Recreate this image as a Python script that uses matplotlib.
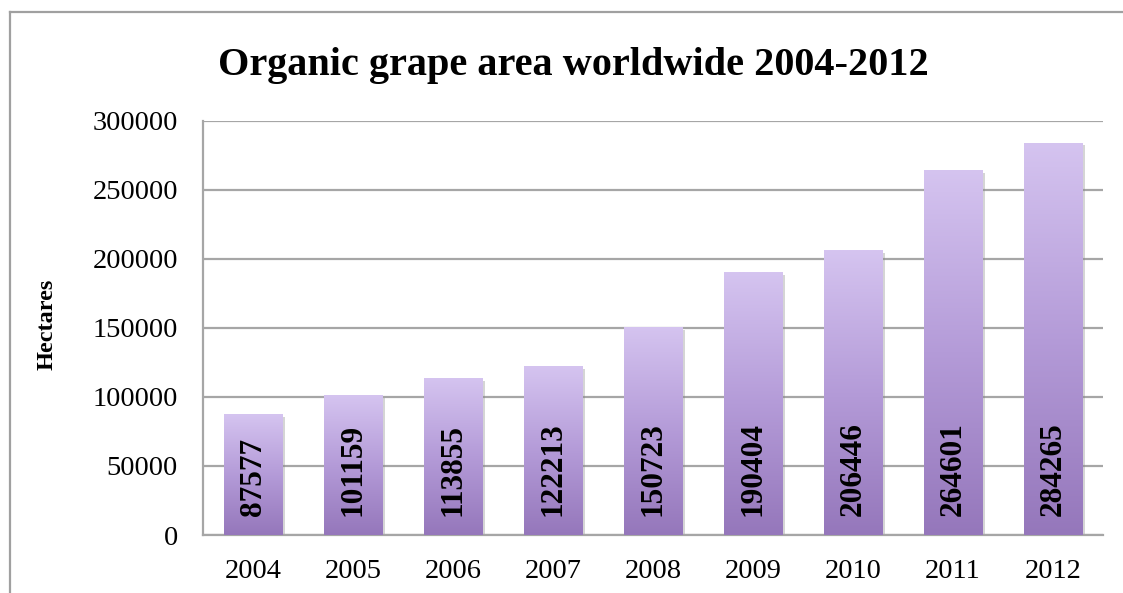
import matplotlib
matplotlib.use("Agg")
import matplotlib.pyplot as plt
import numpy as np
from matplotlib.colors import LinearSegmentedColormap
from matplotlib.lines import Line2D
import matplotlib.patheffects as pe

years = ["2004", "2005", "2006", "2007", "2008", "2009", "2010", "2011", "2012"]
hectares = [87577, 101159, 113855, 122213, 150723, 190404, 206446, 264601, 284265]

SERIF = ["Liberation Serif", "DejaVu Serif"]
GRID = "#a6a6a6"
grad = LinearSegmentedColormap.from_list("grape", ["#9577bb", "#b49bd8", "#d5c4f0"])

fig = plt.figure(figsize=(11.23, 5.93), dpi=100)
ax = fig.add_axes([0.1808, 0.0978, 0.8014, 0.6982])

x = np.arange(len(years))
bars = ax.bar(x, hectares, width=0.59, color="#b49bd8", zorder=2,
              path_effects=[pe.SimplePatchShadow(offset=(2, -2), shadow_rgbFace="#888888", alpha=0.35),
                            pe.Normal()])

ax.set_xlim(-0.5, len(years) - 0.5)
ax.set_ylim(0, 300000)

# vertical gradient inside each bar, light on top
g = np.linspace(0, 1, 256).reshape(-1, 1)
for b in bars:
    x0, w, h = b.get_x(), b.get_width(), b.get_height()
    im = ax.imshow(g, cmap=grad, origin="lower", aspect="auto",
                   extent=(x0, x0 + w, 0, h), zorder=3)
    im.set_clip_path(b)

for xi, v in zip(x, hectares):
    ax.text(xi, 13500, str(v), rotation=90, ha="center", va="bottom",
            fontsize=22.5, fontweight="bold", family=SERIF, zorder=4)

ax.set_yticks(range(0, 300001, 50000))
ax.set_xticks(x)
ax.set_xticklabels(years)
ax.tick_params(axis="both", length=0, labelsize=20.5)
ax.tick_params(axis="y", pad=18)
ax.tick_params(axis="x", pad=17)
for lab in ax.get_xticklabels() + ax.get_yticklabels():
    lab.set_family(SERIF)

ax.yaxis.grid(True, color=GRID, lw=1.6, zorder=0)
ax.set_axisbelow(True)
for s in ("top", "right"):
    ax.spines[s].set_visible(False)
for s in ("left", "bottom"):
    ax.spines[s].set_color(GRID)
    ax.spines[s].set_linewidth(1.6)

fig.text(47 / 1123, 1 - 324 / 593, "Hectares", rotation=90, ha="center", va="center",
         fontsize=17.5, fontweight="bold", family=SERIF)
fig.text(573 / 1123, 1 - 66 / 593, "Organic grape area worldwide 2004-2012",
         ha="center", va="center", fontsize=29, fontweight="bold", family=SERIF)

# outer chart frame (cropped on the right and bottom)
fig.add_artist(Line2D([10 / 1123, 1], [1 - 12 / 593, 1 - 12 / 593], color="#a0a0a0", lw=1.6,
                      transform=fig.transFigure))
fig.add_artist(Line2D([10 / 1123, 10 / 1123], [0, 1 - 12 / 593], color="#a0a0a0", lw=1.6,
                      transform=fig.transFigure))

fig.savefig("out.png", dpi=100)
